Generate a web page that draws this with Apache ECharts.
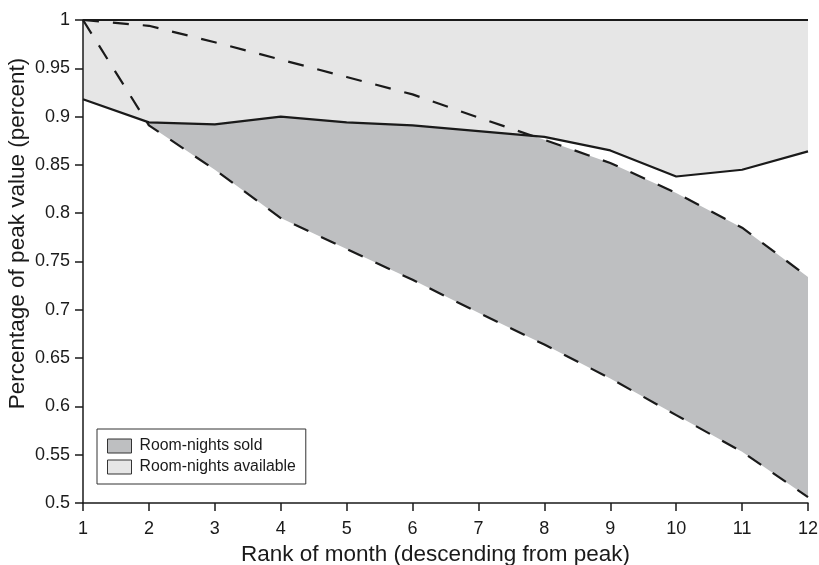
<!DOCTYPE html>
<html>
<head>
<meta charset="utf-8">
<script src="https://cdn.jsdelivr.net/npm/echarts@6/dist/echarts.min.js"></script>
<style>html,body{margin:0;padding:0;background:#fff;}#chart{width:819px;height:565px;}</style>
</head>
<body>
<div id="chart"></div>
<script>
// Rank of month (descending from peak)
var months = [1, 2, 3, 4, 5, 6, 7, 8, 9, 10, 11, 12];
// top reference line (peak = 1)
var peakValues = [1, 1, 1, 1, 1, 1, 1, 1, 1, 1, 1, 1];
// solid line: lower edge of room-nights available band
var availableValues = [0.918, 0.894, 0.892, 0.900, 0.894, 0.891, 0.885, 0.879, 0.865, 0.838, 0.845, 0.864];
// dashed lines: upper and lower edges of room-nights sold band
var soldUpper = [1.000, 0.994, 0.977, 0.959, 0.941, 0.923, 0.899, 0.876, 0.852, 0.821, 0.785, 0.734];
var soldLower = [1.000, 0.891, 0.845, 0.795, 0.763, 0.731, 0.697, 0.664, 0.629, 0.591, 0.553, 0.506];
// sold band is shaded from month 2 onward
var soldBandStart = 2;
var yTickLabels = ['0.5','0.55','0.6','0.65','0.7','0.75','0.8','0.85','0.9','0.95','1'];
var legendNames = ['Room-nights sold', 'Room-nights available'];

function pairs(xs, ys) { return xs.map(function (x, i) { return [x, ys[i]]; }); }
function pairsFrom(xs, ys, start) {
  return pairs(xs, ys).filter(function (p) { return p[0] >= start; });
}

var FONT = 'Liberation Sans, Arial, Helvetica, sans-serif';
var DARK = '#bebfc1', LIGHT = '#e6e6e6', INK = '#1a1a1a';

var chart = echarts.init(document.getElementById('chart'), null, { renderer: 'canvas' });
chart.setOption({
  animation: false,
  backgroundColor: '#fff',
  grid: { left: 83, right: 11, top: 20, bottom: 62, containLabel: false, outerBoundsMode: 'none' },
  legend: {
    orient: 'vertical',
    left: 97, top: 429,
    padding: [9, 10, 9, 10],
    itemGap: 5,
    itemWidth: 24, itemHeight: 14,
    icon: 'rect',
    backgroundColor: '#fff',
    borderColor: '#333', borderWidth: 1,
    borderRadius: 0,
    selectedMode: false,
    textStyle: { fontFamily: FONT, fontSize: 15.8, color: '#1a1a1a', padding: [0, 0, 0, 3] },
    data: [
      { name: legendNames[0], itemStyle: { color: DARK, borderColor: '#333', borderWidth: 1 } },
      { name: legendNames[1], itemStyle: { color: LIGHT, borderColor: '#333', borderWidth: 1 } }
    ]
  },
  xAxis: {
    type: 'value', min: 1, max: 12, interval: 1, z: 10,
    name: 'Rank of month (descending from peak)',
    nameLocation: 'middle', nameGap: 40, nameMoveOverlap: false,
    nameTextStyle: { fontFamily: FONT, fontSize: 22.5, color: '#1a1a1a', padding: [0, 20, 0, 0] },
    axisLine: { show: true, onZero: false, lineStyle: { color: INK, width: 1.5 } },
    axisTick: { show: true, inside: false, length: 8, lineStyle: { color: INK, width: 1.5 } },
    axisLabel: { fontFamily: FONT, fontSize: 18, color: '#1a1a1a', margin: 17 },
    splitLine: { show: false }
  },
  yAxis: {
    type: 'value', min: 0.5, max: 1, interval: 0.05, z: 10,
    name: 'Percentage of peak value (percent)',
    nameLocation: 'middle', nameGap: 54, nameMoveOverlap: false,
    nameTextStyle: { fontFamily: FONT, fontSize: 22.5, color: '#1a1a1a', padding: [0, 0, 0, 56] },
    axisLine: { show: true, onZero: false, lineStyle: { color: INK, width: 1.5 } },
    axisTick: { show: true, inside: false, length: 8, lineStyle: { color: INK, width: 1.5 } },
    axisLabel: {
      fontFamily: FONT, fontSize: 18, color: '#1a1a1a', margin: 13,
      formatter: function (v) {
        var idx = Math.round((v - 0.5) / 0.05);
        return yTickLabels[idx] !== undefined ? yTickLabels[idx] : String(+v.toFixed(2));
      }
    },
    splitLine: { show: false }
  },
  series: [
    { // dark band (room-nights sold): fill under upper dashed edge
      name: legendNames[0], type: 'line', z: 1, symbol: 'none', silent: true,
      data: pairsFrom(months, soldUpper, soldBandStart),
      lineStyle: { width: 0 }, itemStyle: { color: DARK },
      areaStyle: { color: DARK, opacity: 1, origin: 'start' }
    },
    { // blank out below lower dashed edge
      name: 'soldLowerMask', type: 'line', z: 2, symbol: 'none', silent: true,
      data: pairs(months, soldLower),
      lineStyle: { width: 0 }, itemStyle: { color: '#fff' },
      areaStyle: { color: '#fff', opacity: 1, origin: 'start' }
    },
    { // light band (room-nights available): between solid line and peak
      name: legendNames[1], type: 'line', z: 3, symbol: 'none', silent: true,
      data: pairs(months, availableValues),
      lineStyle: { width: 0 }, itemStyle: { color: LIGHT },
      areaStyle: { color: LIGHT, opacity: 1, origin: 'end' }
    },
    {
      name: 'peak', type: 'line', z: 4, symbol: 'none', clip: false,
      data: pairs(months, peakValues),
      lineStyle: { color: INK, width: 2.2, type: 'solid' }
    },
    {
      name: 'soldUpperLine', type: 'line', z: 4, symbol: 'none', clip: false,
      data: pairs(months, soldUpper),
      lineStyle: { color: INK, width: 2.2, type: [16, 14] }
    },
    {
      name: 'soldLowerLine', type: 'line', z: 4, symbol: 'none', clip: false,
      data: pairs(months, soldLower),
      lineStyle: { color: INK, width: 2.2, type: [16, 14] }
    },
    {
      name: 'availableLine', type: 'line', z: 4, symbol: 'none', clip: false,
      data: pairs(months, availableValues),
      lineStyle: { color: INK, width: 2.2, type: 'solid' }
    }
  ]
});
</script>
</body>
</html>
